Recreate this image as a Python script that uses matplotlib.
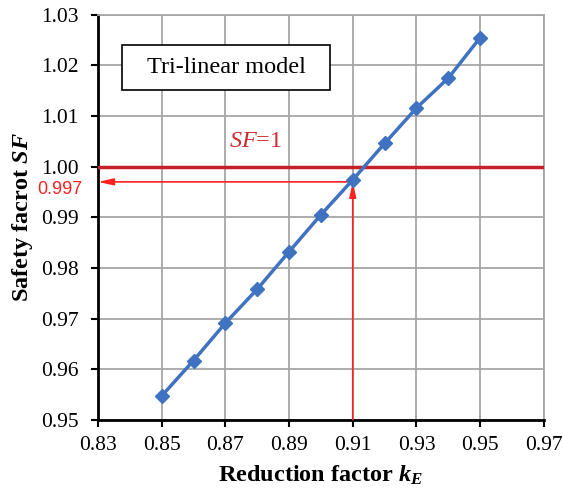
import numpy as np
import matplotlib.pyplot as plt
from matplotlib.patches import Rectangle

plt.rcParams['font.family'] = 'Liberation Serif'
plt.rcParams['mathtext.fontset'] = 'custom'
plt.rcParams['mathtext.rm'] = 'Liberation Serif'
plt.rcParams['mathtext.it'] = 'Liberation Serif:italic'
plt.rcParams['mathtext.bf'] = 'Liberation Serif:bold'
plt.rcParams['mathtext.bfit'] = 'Liberation Serif:bold:italic'

# reduction factor k_E and safety factor SF
k_E = [0.85, 0.86, 0.87, 0.88, 0.89, 0.90, 0.91, 0.92, 0.93, 0.94, 0.95]
SF = [0.9547, 0.9617, 0.9691, 0.9758, 0.9832, 0.9905, 0.9974, 1.0046, 1.0116, 1.0175, 1.0255]

k_cross = 0.91
SF_cross = 0.997

x_ticks = [0.83, 0.85, 0.87, 0.89, 0.91, 0.93, 0.95, 0.97]
y_ticks = [0.95, 0.96, 0.97, 0.98, 0.99, 1.00, 1.01, 1.02, 1.03]

fig = plt.figure(figsize=(5.63, 4.95), dpi=100)
ax = fig.add_axes([0.174, 0.152, 0.792, 0.818])

ax.plot(k_E, SF, color='#3f72c0', lw=2.5, marker='D', ms=7, zorder=4)

# SF = 1 line
ax.axhline(1.0, color='#c8202a', lw=2.5, zorder=3)
ax.text(0.8796, 1.0049, '$SF$=1', color='#d0282d', fontsize=17.5, ha='center', va='center')

# arrows marking the crossing
ax.annotate('', xy=(k_cross, SF_cross), xytext=(k_cross, 0.95),
            arrowprops=dict(arrowstyle='-|>,head_length=0.9,head_width=0.2',
                            color='#ff2020', lw=1.2, shrinkA=0, shrinkB=0), zorder=3)
ax.annotate('', xy=(0.83, SF_cross), xytext=(k_cross, SF_cross),
            arrowprops=dict(arrowstyle='-|>,head_length=0.9,head_width=0.2',
                            color='#ff2020', lw=1.2, shrinkA=0, shrinkB=0), zorder=3)
ax.text(-0.035, SF_cross + 0.0002, '0.997', transform=ax.get_yaxis_transform(),
        color='#ff2020', fontsize=13, family='Liberation Sans',
        ha='right', va='top', clip_on=False)

# label box
ax.add_patch(Rectangle((0.8375, 1.0152), 0.0654, 0.0089, fc='white', ec='black',
                       lw=1.2, zorder=5))
ax.text(0.8702, 1.01965, 'Tri-linear model', fontsize=17.5, ha='center', va='center', zorder=6)

ax.set_xlim(0.83, 0.97)
ax.set_ylim(0.95, 1.03)
ax.set_xticks(x_ticks)
ax.set_yticks(y_ticks)
ax.set_xticklabels([f'{v:.2f}' for v in x_ticks])
ax.set_yticklabels([f'{v:.2f}' for v in y_ticks])
ax.tick_params(labelsize=15.5, direction='out', length=5, width=1.5, color='black')
ax.tick_params(axis='y', pad=9)
ax.tick_params(axis='x', pad=7)
ax.grid(True, color='#a6a6a6', lw=1.3)
ax.set_axisbelow(True)

for side in ['top', 'right']:
    ax.spines[side].set_color('#a6a6a6')
    ax.spines[side].set_linewidth(1.3)
for side in ['left', 'bottom']:
    ax.spines[side].set_color('black')
    ax.spines[side].set_linewidth(2)

ax.set_xlabel(r'Reduction factor $\mathbfit{k}_\mathbfit{E}$', fontsize=17.5, fontweight='bold', labelpad=6)
ax.set_ylabel(r'Safety facrot $\mathbfit{SF}$', fontsize=17.5, fontweight='bold', labelpad=4)

fig.savefig('out.png', dpi=100)
